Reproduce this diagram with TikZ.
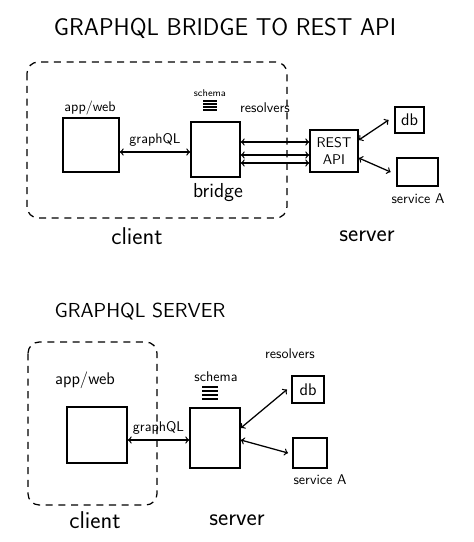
\documentclass[tikz,border=0pt]{standalone}
\usetikzlibrary{positioning}
\tikzset{>=to}
\tikzset{
  box/.style={draw, line width=1.1, inner sep=0pt},
  conn/.style={<->, line width=0.9},
  region/.style={dash pattern=on 5pt off 4pt, line width=0.9, rounded corners=8},
}

\begin{document}
\begin{tikzpicture}[x=0.025cm, y=-0.025cm, font=\sffamily]
\useasboundingbox (0,0) rectangle (474,542);

% graphql bridge to rest api
\node (titlea) at (225,28) {\LARGE GRAPHQL BRIDGE TO REST API};
\draw[region] (27,62) rectangle (287,218);

\node[box, minimum width=1.4cm, minimum height=1.35cm] (appa) at (91,145) {};
\node[box, minimum width=1.225cm, minimum height=1.375cm] (bridge) at (215.5,149.5) {};
\node[box, minimum width=1.2cm, minimum height=1.05cm, align=center] (rest) at (334,151) {REST\\API};
\node[box, minimum width=0.725cm, minimum height=0.65cm] (dba) at (409.5,120) {\large db};
\node[box, minimum width=1.025cm, minimum height=0.7cm] (srva) at (417.5,172) {};

\node (appwa) at (90,108) {app/web};
\node (schemaa) at (210,93) {\scriptsize schema};
\foreach \y in {101,104,107,110}
  \draw[line width=0.8] (203,\y) -- (217,\y);
\node (resa) at (265,108) {resolvers};
\node (bridgel) at (218,193) {\Large bridge};
\node (srvla) at (418,199) {service A};

\draw[conn] (appa.east |- 0,152) -- (bridge.west |- 0,152) node[midway, above] {graphQL};
\foreach \y in {142,155,163}
  \draw[conn] (bridge.east |- 0,\y) -- (rest.west |- 0,\y);
\draw[conn] (rest.east |- 0,140) -- ([xshift=-4]dba.west);
\draw[conn] (rest.east |- 0,158) -- ([xshift=-4]srva.west);

\node (clienta) at (137,236) {\LARGE client};
\node (servera) at (367,236) {\LARGE server};

% graphql server
\node (titleb) at (140,312) {\Large GRAPHQL SERVER};
\draw[region] (28,342) rectangle (157,505);

\node[box, minimum width=1.5cm, minimum height=1.4cm] (appb) at (97,435) {};
\node[box, minimum width=1.25cm, minimum height=1.5cm] (srvb) at (215,438) {};
\node[box, minimum width=0.8cm, minimum height=0.675cm] (dbb) at (308,389.5) {\large db};
\node[box, minimum width=0.85cm, minimum height=0.75cm] (srvc) at (310,453) {};

\node (appwb) at (85,380) {\large app/web};
\node (schemab) at (216,377) {schema};
\foreach \y in {387,391,395,399}
  \draw[line width=0.9] (202,\y) -- (218,\y);
\node (resb) at (290,354) {resolvers};
\node (srvlb) at (320,480) {service A};

\draw[conn] (appb.east |- 0,440) -- (srvb.west |- 0,440) node[midway, above] {graphQL};
\draw[conn] (srvb.east |- 0,428) -- ([xshift=-3]dbb.west);
\draw[conn] (srvb.east |- 0,440) -- ([xshift=-3]srvc.west);

\node (clientb) at (95,520) {\LARGE client};
\node (serverb) at (237,520) {\LARGE server};

\end{tikzpicture}
\end{document}
